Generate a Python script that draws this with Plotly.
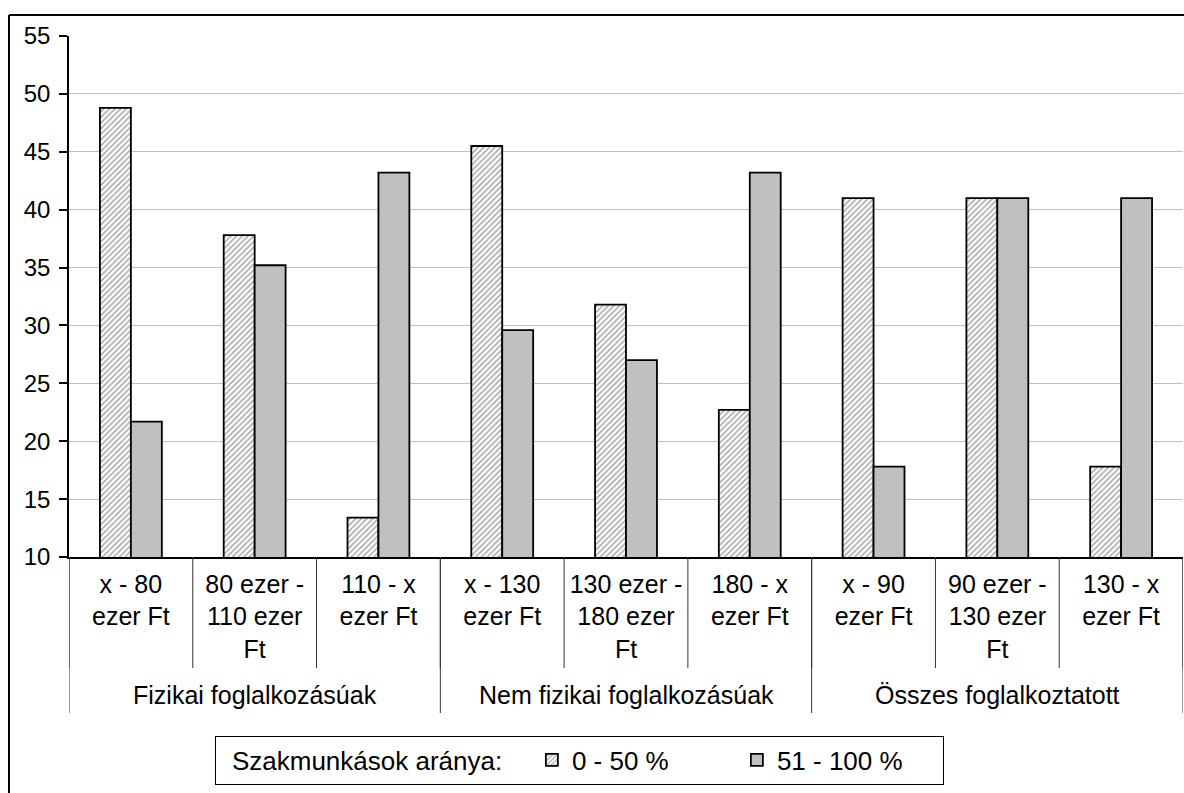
import plotly.graph_objects as go

# ---- data ----
sub_keys = ["x - 80 ezer Ft", "80 ezer - 110 ezer Ft", "110 - x ezer Ft",
            "x - 130 ezer Ft", "130 ezer - 180 ezer Ft", "180 - x ezer Ft",
            "x - 90 ezer Ft", "90 ezer - 130 ezer Ft", "130 - x ezer Ft"]
sub_labels = ["x - 80<br>ezer Ft", "80 ezer -<br>110 ezer<br>Ft", "110 - x<br>ezer Ft",
              "x - 130<br>ezer Ft", "130 ezer -<br>180 ezer<br>Ft", "180 - x<br>ezer Ft",
              "x - 90<br>ezer Ft", "90 ezer -<br>130 ezer<br>Ft", "130 - x<br>ezer Ft"]
groups = ["Fizikai foglalkozásúak", "Nem fizikai foglalkozásúak", "Összes foglalkoztatott"]
group_sizes = [3, 3, 3]
series_names = ["0 - 50 %", "51 - 100 %"]
low_share = [48.8, 37.8, 13.4, 45.5, 31.8, 22.7, 41.0, 41.0, 17.8]
high_share = [21.7, 35.2, 43.2, 29.6, 27.0, 43.2, 17.8, 41.0, 41.0]
y_ticks = [10, 15, 20, 25, 30, 35, 40, 45, 50, 55]
legend_title = "Szakmunkások aránya:"

# ---- layout geometry (pixels) ----
FW, FH = 1184, 793
L, R, T, B = 69, 1183, 36, 557
PW, PH = R - L, B - T
FONT = "Arial, Liberation Sans, sans-serif"


def px_x(px):
    return (px - L) / PW


def px_y(py):
    return (B - py) / PH


fig = go.Figure()
fig.add_trace(go.Bar(
    x=sub_keys, y=low_share, name=series_names[0],
    marker=dict(color="white",
                pattern=dict(shape="/", fgcolor="#555555", bgcolor="white", size=4, solidity=0.4),
                line=dict(color="black", width=1.8)),
))
fig.add_trace(go.Bar(
    x=sub_keys, y=high_share, name=series_names[1],
    marker=dict(color="#c0c0c0", line=dict(color="black", width=1.8)),
))

shapes = []
n = len(sub_keys)
for i in range(n + 1):
    shapes.append(dict(type="line", xref="x", yref="paper", x0=i - 0.5, x1=i - 0.5,
                       y0=px_y(B), y1=px_y(668), line=dict(color="#333333", width=1)))
annotations = []
start = 0
bounds = [0]
for g, size in zip(groups, group_sizes):
    annotations.append(dict(text=g, xref="x", yref="paper", x=start + (size - 1) / 2, y=px_y(695),
                            showarrow=False, xanchor="center", yanchor="middle",
                            font=dict(family=FONT, size=25, color="black")))
    start += size
    bounds.append(start)
for b in bounds:
    shapes.append(dict(type="line", xref="x", yref="paper", x0=b - 0.5, x1=b - 0.5,
                       y0=px_y(B), y1=px_y(713), line=dict(color="#333333", width=1)))
# outer chart border (top and left visible; right/bottom cut off)
shapes.append(dict(type="line", xref="paper", yref="paper", x0=px_x(9), x1=px_x(1200),
                   y0=px_y(15), y1=px_y(15), line=dict(color="black", width=2)))
shapes.append(dict(type="line", xref="paper", yref="paper", x0=px_x(9), x1=px_x(9),
                   y0=px_y(15), y1=px_y(810), line=dict(color="black", width=2)))

fig.update_layout(
    width=FW, height=FH,
    margin=dict(l=L, r=FW - R, t=T, b=FH - B, pad=0),
    paper_bgcolor="white", plot_bgcolor="white",
    barmode="group", bargap=0.5, bargroupgap=0,
    font=dict(family=FONT, size=24, color="black"),
    showlegend=True,
    legend=dict(
        orientation="h", x=px_x(579), y=px_y(760), xanchor="center", yanchor="middle",
        bordercolor="black", borderwidth=1, bgcolor="white",
        font=dict(family=FONT, size=26, color="black"),
        title=dict(text="&nbsp;&nbsp;" + legend_title + "&nbsp;&nbsp;&nbsp;", side="left",
                   font=dict(family=FONT, size=26)),
        itemwidth=30, entrywidth=160, entrywidthmode="pixels",
    ),
    shapes=shapes, annotations=annotations,
)
fig.update_xaxes(
    type="category", categoryorder="array", categoryarray=sub_keys,
    tickvals=sub_keys, ticktext=sub_labels, ticks="", showgrid=False,
    showline=True, linecolor="black", linewidth=1.5, ticklabelstandoff=4,
    tickfont=dict(family=FONT, size=25, color="black"), range=[-0.5, n - 0.5],
)
fig.update_yaxes(
    range=[y_ticks[0], y_ticks[-1]], tickvals=y_ticks, showgrid=True, gridcolor="#c0c0c0", gridwidth=1,
    showline=True, linecolor="black", linewidth=1.5, ticks="outside", ticklen=8, tickcolor="black",
    tickwidth=1.5, zeroline=False, ticklabelstandoff=4,
    tickfont=dict(family=FONT, size=24, color="black"),
)

fig.write_html("out.html", config={"displayModeBar": False},
               post_script="document.body.style.margin='0px';")
